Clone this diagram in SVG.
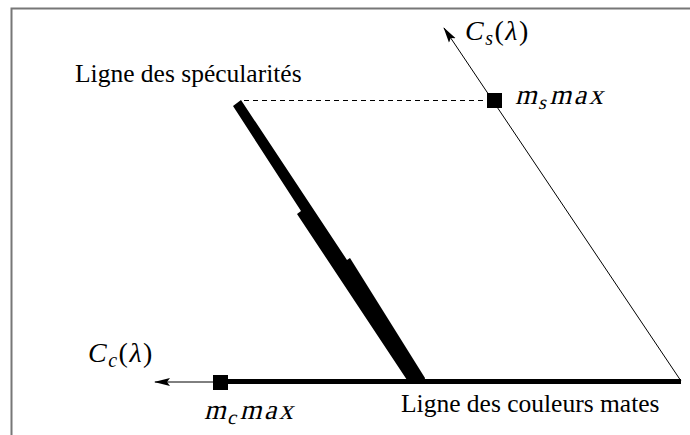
<svg xmlns="http://www.w3.org/2000/svg" width="690" height="435" viewBox="0 0 690 435">
<style>
.lbl{font-family:"Liberation Serif","Times New Roman",serif;font-size:25.5px;fill:#000}
.math{font-family:"Liberation Serif","Times New Roman",serif;font-size:28px;fill:#000}
.sub{font-size:20px}
.thin{stroke:#000;stroke-width:1;fill:none}
</style>
<defs>
<marker id="ah" viewBox="0 0 16 10" refX="15" refY="5" markerWidth="16" markerHeight="10" markerUnits="userSpaceOnUse" orient="auto">
<path d="M0,1 L16,5 L0,9 L3,5 Z" fill="#000"/>
</marker>
</defs>
<rect width="690" height="435" fill="#fff"/>
<path d="M11.5,435 V8.5 H690" fill="none" stroke="#777" stroke-width="2"/>
<g id="connectors">
<line class="thin" x1="681" y1="381" x2="444" y2="28" marker-end="url(#ah)"/>
<line class="thin" x1="214" y1="382" x2="155" y2="382" marker-end="url(#ah)"/>
<line x1="244" y1="100.5" x2="488" y2="100.5" stroke="#000" stroke-width="1" stroke-dasharray="5,4"/>
<line x1="222" y1="381.5" x2="681" y2="381.5" stroke="#000" stroke-width="5"/>
<polygon points="233,106 241,100 347,260 350,258 425,378 424,383 409,383 297,214 301,211" fill="#000"/>
</g>
<g id="specular-label"><text class="lbl" x="75" y="82">Ligne des spécularités</text></g>
<g id="matte-label"><text class="lbl" x="401" y="412">Ligne des couleurs mates</text></g>
<g id="ms-max">
<rect x="487" y="93" width="15" height="15" fill="#000"/>
<g transform="translate(515,104) skewX(-14)"><text class="math" x="0" y="0" letter-spacing="2.5">m<tspan class="sub" dy="5">s</tspan><tspan dy="-5">max</tspan></text></g>
</g>
<g id="mc-max">
<rect x="213" y="375" width="15" height="15" fill="#000"/>
<g transform="translate(204,419) skewX(-14)"><text class="math" x="0" y="0" letter-spacing="2.5">m<tspan class="sub" dy="5">c</tspan><tspan dy="-5">max</tspan></text></g>
</g>
<g id="cs-axis"><text class="math" x="465" y="40" letter-spacing="1.5"><tspan font-style="italic">C</tspan><tspan class="sub" font-style="italic" dy="5">s</tspan><tspan dy="-5">(</tspan><tspan font-style="italic">λ</tspan>)</text></g>
<g id="cc-axis"><text class="math" x="88" y="362" letter-spacing="1.5"><tspan font-style="italic">C</tspan><tspan class="sub" font-style="italic" dy="5">c</tspan><tspan dy="-5">(</tspan><tspan font-style="italic">λ</tspan>)</text></g>
</svg>
